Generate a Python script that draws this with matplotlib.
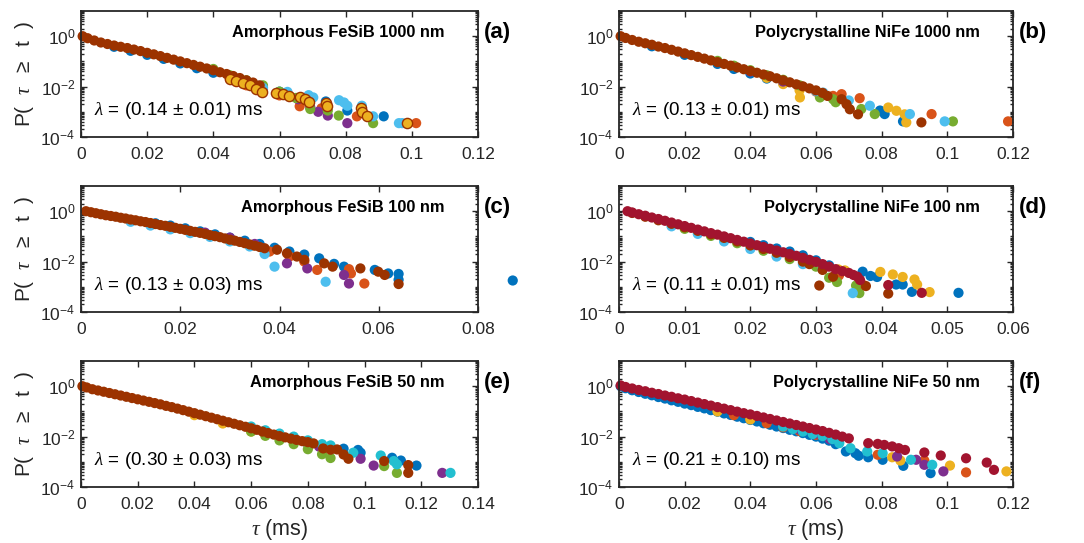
import numpy as np
import matplotlib
matplotlib.use('Agg')
import matplotlib.pyplot as plt
from matplotlib.ticker import FixedLocator, LogLocator, NullFormatter, FuncFormatter

# MATLAB default colours
BLUE = '#0072BD'
ORANGE = '#D95319'
YELLOW = '#EDB120'
PURPLE = '#7E2F8E'
GREEN = '#77AC30'
LBLUE = '#4DBEEE'
DRED = '#A2142F'
BROWN = '#9C3300'
CYAN = '#22BFD0'

# data: (tau in ms, log10 P(tau >= t))

# (a) Amorphous FeSiB 1000 nm
a_brown = [(0.0005, 0.00), (0.002, -0.08), (0.004, -0.17), (0.006, -0.25), (0.008, -0.31),
           (0.010, -0.37), (0.012, -0.42), (0.014, -0.47), (0.016, -0.53), (0.018, -0.59),
           (0.020, -0.66), (0.022, -0.72), (0.024, -0.79), (0.026, -0.86), (0.028, -0.93),
           (0.030, -1.00), (0.032, -1.07), (0.034, -1.14), (0.036, -1.21), (0.038, -1.28),
           (0.040, -1.35), (0.042, -1.43), (0.044, -1.50), (0.046, -1.58), (0.048, -1.66),
           (0.050, -1.75), (0.052, -1.84), (0.054, -1.95)]
a_yellow = [(0.045, -1.68), (0.047, -1.76), (0.049, -1.84), (0.051, -1.95), (0.053, -2.08),
            (0.0546, -2.22), (0.059, -2.26), (0.061, -2.30), (0.0629, -2.39), (0.0663, -2.43),
            (0.0678, -2.50), (0.0688, -2.60), (0.0741, -2.65), (0.0744, -2.78), (0.0847, -2.85),
            (0.0849, -2.99), (0.0863, -3.18), (0.0985, -3.45)]
a_blue = [(0.010, -0.42), (0.015, -0.58), (0.020, -0.74), (0.025, -0.90), (0.030, -1.08),
          (0.035, -1.27), (0.040, -1.45), (0.045, -1.63), (0.050, -1.85),
          (0.055, -2.05), (0.060, -2.20), (0.0740, -2.59), (0.0805, -2.95), (0.0915, -3.18)]
a_orange = [(0.045, -1.70), (0.050, -1.95), (0.055, -2.12), (0.060, -2.35), (0.0661, -2.78),
            (0.0727, -2.86), (0.0834, -3.18), (0.1013, -3.45)]
a_purple = [(0.045, -1.62), (0.050, -1.85), (0.055, -2.02), (0.060, -2.25), (0.0656, -2.50),
            (0.0693, -2.82), (0.0717, -3.00), (0.0746, -3.15), (0.0805, -3.45)]
a_green = [(0.040, -1.30), (0.045, -1.55), (0.050, -1.75), (0.055, -1.95), (0.060, -2.20),
           (0.065, -2.45), (0.0693, -2.89), (0.0746, -2.95), (0.0779, -3.15), (0.0883, -3.45)]
a_lblue = [(0.055, -2.05), (0.0624, -2.21), (0.0688, -2.34), (0.0702, -2.43), (0.0780, -2.54),
           (0.0795, -2.63), (0.0805, -2.76), (0.0849, -2.76), (0.0883, -3.18), (0.0961, -3.45),
           (0.0971, -3.45)]

# (b) Polycrystalline NiFe 1000 nm
b_brown = [(0.0005, 0.00), (0.002, -0.07), (0.004, -0.15), (0.006, -0.22), (0.008, -0.28),
           (0.010, -0.34), (0.012, -0.41), (0.014, -0.47), (0.016, -0.54), (0.018, -0.61),
           (0.020, -0.68), (0.022, -0.75), (0.024, -0.82), (0.026, -0.89), (0.028, -0.96),
           (0.030, -1.03), (0.032, -1.10), (0.034, -1.17), (0.036, -1.24), (0.038, -1.31),
           (0.040, -1.38), (0.042, -1.45), (0.044, -1.52), (0.046, -1.59), (0.048, -1.67),
           (0.050, -1.75), (0.052, -1.83), (0.054, -1.91), (0.056, -1.99), (0.058, -2.07),
           (0.060, -2.15), (0.062, -2.25), (0.0635, -2.37), (0.0678, -2.50), (0.0693, -2.70),
           (0.0703, -2.90), (0.0728, -3.10), (0.0921, -3.42)]
b_blue = [(0.010, -0.40), (0.020, -0.74), (0.030, -1.10), (0.035, -1.30), (0.040, -1.48),
          (0.045, -1.68), (0.050, -1.85),
          (0.055, -2.05), (0.0809, -3.09), (0.0865, -3.38), (0.0795, -2.95)]
b_orange = [(0.060, -2.20), (0.0652, -2.37), (0.0678, -2.30), (0.0733, -2.46), (0.0952, -3.09),
            (0.1185, -3.38)]
b_yellow = [(0.045, -1.65), (0.050, -1.90), (0.055, -2.15), (0.0551, -2.43), (0.0820, -2.83),
            (0.0845, -2.96), (0.0870, -3.10), (0.0875, -3.42)]
b_purple = [(0.040, -1.40), (0.050, -1.80)]
b_green = [(0.030, -0.98), (0.035, -1.17), (0.040, -1.35), (0.045, -1.55), (0.050, -1.73),
           (0.055, -1.95), (0.0612, -2.43), (0.0652, -2.50), (0.0660, -2.62), (0.0738, -2.89),
           (0.0779, -3.09), (0.1017, -3.38)]
b_lblue = [(0.060, -2.18), (0.0622, -2.24), (0.0700, -2.55), (0.0764, -2.76), (0.0886, -3.09),
           (0.0992, -3.38)]

# (c) Amorphous FeSiB 100 nm
c_brown = [(0.001, 0.00), (0.002, -0.04), (0.003, -0.08), (0.004, -0.12), (0.005, -0.16),
           (0.006, -0.19), (0.007, -0.22), (0.008, -0.26), (0.009, -0.29), (0.010, -0.33),
           (0.011, -0.36), (0.012, -0.40), (0.013, -0.43), (0.014, -0.47), (0.015, -0.51),
           (0.016, -0.55), (0.017, -0.58), (0.018, -0.62), (0.019, -0.66), (0.020, -0.70),
           (0.021, -0.74), (0.022, -0.78), (0.023, -0.82), (0.024, -0.86), (0.025, -0.90),
           (0.026, -0.95), (0.027, -0.99), (0.028, -1.03), (0.029, -1.08), (0.030, -1.13),
           (0.031, -1.17), (0.032, -1.22), (0.033, -1.27), (0.034, -1.32), (0.035, -1.37),
           (0.036, -1.42), (0.037, -1.47), (0.0395, -1.53), (0.0415, -1.67), (0.0435, -1.80),
           (0.045, -1.93), (0.049, -2.07), (0.0507, -2.20), (0.0563, -2.27), (0.0599, -2.40),
           (0.0612, -2.53), (0.064, -2.89)]
c_blue = [(0.015, -0.48), (0.018, -0.57), (0.021, -0.68), (0.024, -0.80), (0.027, -0.92),
          (0.030, -1.05), (0.033, -1.17), (0.036, -1.30), (0.039, -1.45), (0.042, -1.60),
          (0.045, -1.72), (0.048, -1.87), (0.051, -2.09), (0.053, -2.20), (0.0592, -2.33),
          (0.0619, -2.47), (0.064, -2.49), (0.064, -2.72), (0.087, -2.75)]
c_lblue = [(0.010, -0.42), (0.014, -0.57), (0.018, -0.72), (0.022, -0.87), (0.026, -1.02),
           (0.030, -1.20), (0.034, -1.40), (0.037, -1.70), (0.039, -2.20), (0.0493, -2.80)]
c_orange = [(0.030, -1.15), (0.034, -1.35), (0.038, -1.60), (0.042, -1.80), (0.045, -2.00),
            (0.0476, -2.33), (0.054, -2.30), (0.0544, -2.47), (0.0571, -2.87)]
c_purple = [(0.025, -0.85), (0.030, -1.05), (0.035, -1.30), (0.0415, -2.07), (0.0456, -2.27),
            (0.053, -2.53), (0.054, -2.87)]

# (d) Polycrystalline NiFe 100 nm
d_dred = [(0.0013, 0.00), (0.002, -0.05), (0.003, -0.12), (0.004, -0.18), (0.005, -0.25),
          (0.006, -0.31), (0.007, -0.38), (0.008, -0.45), (0.009, -0.52), (0.010, -0.59),
          (0.011, -0.66), (0.012, -0.73), (0.013, -0.80), (0.014, -0.87), (0.015, -0.93),
          (0.016, -1.00), (0.017, -1.07), (0.018, -1.14), (0.019, -1.21), (0.020, -1.28),
          (0.021, -1.35), (0.022, -1.42), (0.023, -1.49), (0.024, -1.56), (0.025, -1.63),
          (0.026, -1.70), (0.027, -1.77), (0.028, -1.85), (0.029, -1.93), (0.030, -2.01),
          (0.031, -2.10), (0.032, -2.20), (0.033, -2.30), (0.034, -2.38), (0.035, -2.45),
          (0.0357, -2.53), (0.0363, -2.60), (0.0367, -2.73), (0.0410, -2.93), (0.0461, -3.24)]
d_brown = [(0.002, -0.07), (0.004, -0.22), (0.006, -0.36), (0.008, -0.50), (0.010, -0.64),
           (0.012, -0.78), (0.014, -0.92), (0.016, -1.06), (0.018, -1.20), (0.020, -1.36),
           (0.022, -1.50), (0.024, -1.65), (0.026, -1.82), (0.028, -2.00), (0.029, -2.10),
           (0.031, -2.33), (0.0305, -2.95), (0.0326, -2.60), (0.0376, -2.97), (0.0410, -3.27)]
d_blue = [(0.020, -1.22), (0.022, -1.35), (0.024, -1.48), (0.026, -1.60), (0.028, -1.75),
          (0.030, -1.95), (0.032, -2.15), (0.0371, -2.40), (0.0383, -2.57), (0.0393, -2.61),
          (0.0422, -2.91), (0.0432, -2.91), (0.0446, -3.20), (0.0517, -3.24)]
d_yellow = [(0.0334, -2.31), (0.0344, -2.35), (0.0398, -2.41), (0.0417, -2.51), (0.0432, -2.61),
            (0.0450, -2.71), (0.0454, -2.91), (0.0473, -3.21)]
d_green = [(0.010, -0.70), (0.014, -0.98), (0.018, -1.27), (0.022, -1.57), (0.026, -1.90),
           (0.030, -2.20), (0.0320, -2.64), (0.0332, -2.81), (0.0361, -2.95), (0.0366, -3.25)]
d_lblue = [(0.008, -0.60), (0.012, -0.90), (0.016, -1.20), (0.020, -1.50), (0.024, -1.80),
           (0.028, -2.10), (0.031, -2.30), (0.0356, -3.25)]
d_orange = [(0.0335, -2.55), (0.0372, -2.93)]

# (e) Amorphous FeSiB 50 nm
e_brown = [(0.0005, 0.00), (0.002, -0.05), (0.004, -0.12), (0.006, -0.17), (0.008, -0.22),
           (0.010, -0.27), (0.012, -0.32), (0.014, -0.37), (0.016, -0.42), (0.018, -0.47),
           (0.020, -0.52), (0.022, -0.57), (0.024, -0.62), (0.026, -0.67), (0.028, -0.72),
           (0.030, -0.78), (0.032, -0.83), (0.034, -0.89), (0.036, -0.95), (0.038, -1.01),
           (0.040, -1.07), (0.042, -1.13), (0.044, -1.19), (0.046, -1.25), (0.048, -1.31),
           (0.050, -1.37), (0.052, -1.43), (0.054, -1.49), (0.056, -1.55), (0.058, -1.61),
           (0.060, -1.67), (0.062, -1.73), (0.064, -1.80), (0.066, -1.86), (0.068, -1.92),
           (0.070, -1.98), (0.072, -2.03), (0.074, -2.08), (0.076, -2.13), (0.078, -2.18),
           (0.080, -2.22), (0.082, -2.27), (0.0854, -2.47), (0.088, -2.52), (0.0903, -2.51),
           (0.0926, -2.71), (0.0943, -2.88), (0.1069, -2.97), (0.1154, -3.13), (0.1154, -3.44)]
e_cyan = [(0.060, -1.60), (0.065, -1.75), (0.070, -1.88), (0.075, -2.00), (0.080, -2.15),
          (0.085, -2.30), (0.088, -2.35), (0.0960, -2.64), (0.1057, -2.75), (0.1103, -2.97),
          (0.1114, -3.10), (0.1303, -3.44)]
e_blue = [(0.0926, -2.48), (0.0977, -2.53), (0.0986, -2.64), (0.1097, -2.84), (0.1128, -2.95),
          (0.1183, -3.15)]
e_purple = [(0.060, -1.72), (0.065, -1.88), (0.070, -2.02), (0.075, -2.15), (0.080, -2.30),
            (0.084, -2.40), (0.0986, -2.88), (0.1032, -3.15), (0.1274, -3.44)]
e_green = [(0.060, -1.80), (0.065, -1.97), (0.070, -2.15), (0.075, -2.30), (0.080, -2.50),
           (0.085, -2.70), (0.088, -2.85), (0.1069, -3.17), (0.1114, -3.44)]
e_yellow = [(0.040, -1.15), (0.050, -1.48), (0.060, -1.80)]

# (f) Polycrystalline NiFe 50 nm
f_dred = [(0.0005, 0.03), (0.002, -0.03), (0.004, -0.09), (0.006, -0.15), (0.008, -0.20),
          (0.010, -0.26), (0.012, -0.31), (0.014, -0.37), (0.016, -0.42), (0.018, -0.48),
          (0.020, -0.53), (0.022, -0.59), (0.024, -0.65), (0.026, -0.71), (0.028, -0.77),
          (0.030, -0.83), (0.032, -0.89), (0.034, -0.95), (0.036, -1.01), (0.038, -1.07),
          (0.040, -1.12), (0.042, -1.18), (0.044, -1.24), (0.046, -1.30), (0.048, -1.36),
          (0.050, -1.42), (0.052, -1.48), (0.054, -1.54), (0.056, -1.60), (0.058, -1.66),
          (0.060, -1.72), (0.062, -1.78), (0.064, -1.85), (0.066, -1.92), (0.068, -2.00),
          (0.070, -2.07), (0.0759, -2.26), (0.0788, -2.29), (0.0808, -2.33), (0.0832, -2.39),
          (0.0852, -2.46), (0.0871, -2.53), (0.0930, -2.63), (0.0980, -2.75), (0.1057, -2.86),
          (0.1120, -3.03), (0.1142, -3.32)]
f_blue = [(0.0005, 0.00), (0.002, -0.08), (0.004, -0.16), (0.006, -0.23), (0.008, -0.30),
          (0.010, -0.36), (0.012, -0.43), (0.014, -0.49), (0.016, -0.56), (0.018, -0.62),
          (0.020, -0.69), (0.022, -0.75), (0.024, -0.82), (0.026, -0.88), (0.028, -0.95),
          (0.030, -1.01), (0.032, -1.08), (0.034, -1.14), (0.036, -1.21), (0.038, -1.27),
          (0.040, -1.34), (0.042, -1.40), (0.044, -1.47), (0.046, -1.53), (0.048, -1.60),
          (0.050, -1.66), (0.052, -1.73), (0.054, -1.79), (0.056, -1.86), (0.058, -1.93),
          (0.060, -2.00), (0.062, -2.08), (0.064, -2.16), (0.066, -2.30), (0.0691, -2.59),
          (0.0720, -2.66), (0.0730, -2.76), (0.0759, -2.82), (0.0803, -2.92), (0.0866, -3.16),
          (0.0949, -3.45)]
f_cyan = [(0.050, -1.60), (0.053, -1.70), (0.056, -1.80), (0.059, -1.90), (0.062, -1.98),
          (0.065, -2.10), (0.0671, -2.26), (0.0705, -2.46), (0.0756, -2.59), (0.0803, -2.66),
          (0.0889, -2.92), (0.0954, -3.12)]
f_orange = [(0.035, -1.15), (0.040, -1.30), (0.045, -1.47), (0.050, -1.63), (0.055, -1.78),
            (0.060, -1.93), (0.0788, -2.72), (0.0930, -2.95), (0.1057, -3.42)]
f_purple = [(0.055, -1.72), (0.060, -1.88), (0.0642, -2.10), (0.0847, -2.79), (0.0905, -2.92),
            (0.0930, -3.12), (0.0988, -3.38)]
f_yellow = [(0.030, -1.00), (0.040, -1.32), (0.0832, -2.82), (0.0857, -2.95), (0.1008, -3.15),
            (0.1180, -3.38)]

# panel table: (series list drawn bottom->top, xmax, xstep, title, letter, lambda, error)
panels = [
    ([(a_blue, BLUE), (a_orange, ORANGE), (a_purple, PURPLE), (a_green, GREEN),
      (a_lblue, LBLUE), (a_brown, BROWN), (a_yellow, YELLOW)],
     0.12, 0.02, 'Amorphous FeSiB 1000 nm', '(a)', '0.14', '0.01'),
    ([(b_blue, BLUE), (b_orange, ORANGE), (b_yellow, YELLOW), (b_purple, PURPLE),
      (b_green, GREEN), (b_lblue, LBLUE), (b_brown, BROWN)],
     0.12, 0.02, 'Polycrystalline NiFe 1000 nm', '(b)', '0.13', '0.01'),
    ([(c_blue, BLUE), (c_orange, ORANGE), (c_purple, PURPLE), (c_lblue, LBLUE),
      (c_brown, BROWN)],
     0.08, 0.02, 'Amorphous FeSiB 100 nm', '(c)', '0.13', '0.03'),
    ([(d_blue, BLUE), (d_orange, ORANGE), (d_yellow, YELLOW), (d_green, GREEN),
      (d_lblue, LBLUE), (d_brown, BROWN), (d_dred, DRED)],
     0.06, 0.01, 'Polycrystalline NiFe 100 nm', '(d)', '0.11', '0.01'),
    ([(e_blue, BLUE), (e_yellow, YELLOW), (e_purple, PURPLE), (e_green, GREEN),
      (e_cyan, CYAN), (e_brown, BROWN)],
     0.14, 0.02, 'Amorphous FeSiB 50 nm', '(e)', '0.30', '0.03'),
    ([(f_blue, BLUE), (f_orange, ORANGE), (f_yellow, YELLOW), (f_purple, PURPLE),
      (f_cyan, CYAN), (f_dred, DRED)],
     0.12, 0.02, 'Polycrystalline NiFe 50 nm', '(f)', '0.21', '0.10'),
]

plt.rcParams['font.family'] = ['Liberation Sans', 'DejaVu Sans']
plt.rcParams['mathtext.fontset'] = 'custom'
plt.rcParams['mathtext.rm'] = 'Liberation Sans'
plt.rcParams['mathtext.it'] = 'Liberation Serif:italic'
plt.rcParams['mathtext.bf'] = 'Liberation Sans:bold'

INK = '#262626'
W, H = 1084, 543
fig = plt.figure(figsize=(W / 100, H / 100), dpi=100)

col_left = [81, 619]
col_width = [397, 394]
row_bottom = [137, 312, 487]
ax_h = 126
MS = 54


def fmt_x(v, pos):
    return '%g' % round(v, 4)


for i, (series, xmax, xstep, title, letter, lam, err) in enumerate(panels):
    r, c = divmod(i, 2)
    ax = fig.add_axes([col_left[c] / W, (H - row_bottom[r]) / H,
                       col_width[c] / W, ax_h / H])
    for pts, color in series:
        t = np.array([p[0] for p in pts])
        lp = np.array([p[1] for p in pts])
        if pts is a_yellow:
            ax.scatter(t, 10 ** lp, s=MS, c=color, edgecolors=BROWN, linewidths=1.0,
                       zorder=3, clip_on=False)
        else:
            ax.scatter(t, 10 ** lp, s=MS, c=color, edgecolors='none', zorder=2, clip_on=False)
    ax.set_yscale('log')
    ax.set_ylim(1e-4, 10)
    ax.set_xlim(0, xmax)
    ax.xaxis.set_major_locator(FixedLocator(np.arange(0, xmax + xstep / 2, xstep)))
    ax.xaxis.set_major_formatter(FuncFormatter(fmt_x))
    ax.yaxis.set_major_locator(FixedLocator([1e-4, 1e-2, 1e0]))
    ax.yaxis.set_minor_locator(LogLocator(base=10, subs=np.arange(1, 10), numticks=30))
    ax.yaxis.set_minor_formatter(NullFormatter())
    ax.tick_params(which='both', direction='in', top=True, right=True, colors=INK,
                   labelsize=12.5, width=1.0)
    ax.tick_params(which='major', length=4)
    ax.tick_params(axis='x', pad=7)
    ax.tick_params(axis='y', pad=4)
    ax.tick_params(which='minor', length=2.5)
    for sp in ax.spines.values():
        sp.set_linewidth(1.3)
        sp.set_color(INK)
    ax.text(0.915, 0.83, title, transform=ax.transAxes, ha='right', va='center',
            fontsize=11.8, fontweight='bold', color='black')
    ax.text(1.015, 0.83, letter, transform=ax.transAxes, ha='left', va='center',
            fontsize=16, fontweight='bold', color='black')
    ax.text(0.032, 0.21, r'$\lambda$ = (%s $\pm$ %s) ms' % (lam, err), transform=ax.transAxes,
            ha='left', va='center', fontsize=13.6, color='black')
    if c == 0:
        ax.set_ylabel(r'P(  $\tau$  $\geq$  t  )', fontsize=15, color=INK, labelpad=3)
    if r == 2:
        ax.set_xlabel(r'$\tau$ (ms)', fontsize=15.5, color=INK, labelpad=4)

fig.savefig('out.png', dpi=100)
